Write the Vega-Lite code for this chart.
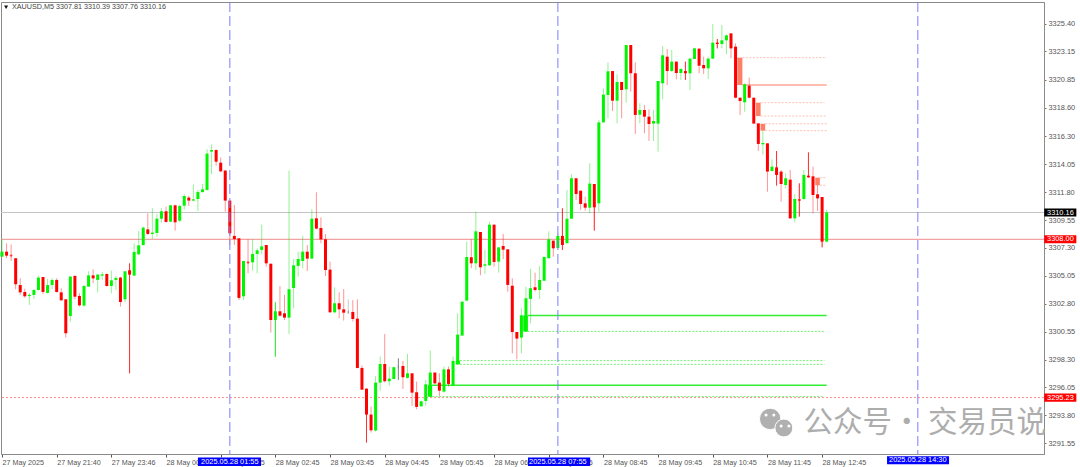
{"$schema":"https://vega.github.io/schema/vega-lite/v6.json","width":1043,"height":452,"autosize":"none","padding":{"left":1,"top":2,"right":36,"bottom":13},"background":"white","config":{"view":{"stroke":"#8a8a8a","strokeWidth":1},"font":"Liberation Sans"},
"resolve":{"scale":{"color":"independent"}},
"datasets":{"candles":[
{"i":0,"o":3306.60,"h":3308.00,"l":3306.60,"c":3307.00},{"i":1,"o":3307.00,"h":3307.67,"l":3306.47,"c":3306.68},{"i":2,"o":3306.71,"h":3307.59,"l":3306.25,"c":3306.67},{"i":3,"o":3306.47,"h":3306.47,"l":3303.97,"c":3304.37},{"i":4,"o":3304.31,"h":3304.85,"l":3303.51,"c":3303.72},{"i":5,"o":3303.75,"h":3304.02,"l":3303.29,"c":3303.40},{"i":6,"o":3303.43,"h":3303.51,"l":3302.70,"c":3303.51},{"i":7,"o":3303.51,"h":3303.99,"l":3303.19,"c":3303.91},{"i":8,"o":3303.91,"h":3305.07,"l":3303.86,"c":3304.91},{"i":9,"o":3304.96,"h":3304.96,"l":3303.59,"c":3303.75},
{"i":10,"o":3303.67,"h":3304.80,"l":3303.62,"c":3304.31},{"i":11,"o":3304.31,"h":3304.85,"l":3303.97,"c":3304.72},{"i":12,"o":3304.72,"h":3304.85,"l":3303.70,"c":3303.75},{"i":13,"o":3303.72,"h":3304.05,"l":3303.02,"c":3303.08},{"i":14,"o":3303.16,"h":3303.16,"l":3300.07,"c":3300.42},{"i":15,"o":3301.81,"h":3305.04,"l":3301.36,"c":3304.99},{"i":16,"o":3305.04,"h":3305.12,"l":3303.16,"c":3303.37},{"i":17,"o":3303.43,"h":3303.64,"l":3302.57,"c":3302.67},{"i":18,"o":3302.65,"h":3304.31,"l":3302.57,"c":3304.23},{"i":19,"o":3304.18,"h":3305.42,"l":3304.18,"c":3305.09},
{"i":20,"o":3305.09,"h":3305.58,"l":3304.45,"c":3304.85},{"i":21,"o":3304.72,"h":3305.20,"l":3303.72,"c":3305.15},{"i":22,"o":3305.07,"h":3305.36,"l":3304.72,"c":3305.17},{"i":23,"o":3305.20,"h":3305.26,"l":3304.18,"c":3304.23},{"i":24,"o":3304.23,"h":3305.47,"l":3303.64,"c":3304.69},{"i":25,"o":3304.72,"h":3305.04,"l":3303.91,"c":3304.88},{"i":26,"o":3304.91,"h":3304.99,"l":3302.57,"c":3302.94},{"i":27,"o":3303.16,"h":3305.42,"l":3302.92,"c":3305.42},{"i":28,"o":3305.50,"h":3306.06,"l":3297.19,"c":3305.15},{"i":29,"o":3305.07,"h":3307.67,"l":3305.07,"c":3306.98},
{"i":30,"o":3306.79,"h":3308.67,"l":3306.71,"c":3307.51},{"i":31,"o":3307.54,"h":3309.02,"l":3307.49,"c":3308.94},{"i":32,"o":3308.80,"h":3310.09,"l":3308.35,"c":3308.43},{"i":33,"o":3308.43,"h":3310.50,"l":3308.02,"c":3308.54},{"i":34,"o":3308.51,"h":3310.04,"l":3308.21,"c":3309.66},{"i":35,"o":3309.66,"h":3310.50,"l":3309.34,"c":3310.26},{"i":36,"o":3310.26,"h":3310.63,"l":3309.34,"c":3309.40},{"i":37,"o":3309.42,"h":3310.79,"l":3309.37,"c":3310.74},{"i":38,"o":3310.74,"h":3310.79,"l":3308.70,"c":3309.37},{"i":39,"o":3309.50,"h":3310.79,"l":3309.40,"c":3310.69},
{"i":40,"o":3310.71,"h":3311.65,"l":3310.39,"c":3311.49},{"i":41,"o":3311.36,"h":3311.52,"l":3310.69,"c":3311.12},{"i":42,"o":3311.12,"h":3312.43,"l":3311.09,"c":3311.22},{"i":43,"o":3311.25,"h":3311.98,"l":3310.28,"c":3311.81},{"i":44,"o":3311.81,"h":3312.46,"l":3311.76,"c":3312.03},{"i":45,"o":3311.98,"h":3315.26,"l":3311.92,"c":3314.91},{"i":46,"o":3315.07,"h":3315.66,"l":3313.24,"c":3315.20},{"i":47,"o":3315.20,"h":3315.26,"l":3313.94,"c":3314.26},{"i":48,"o":3314.18,"h":3314.61,"l":3313.43,"c":3313.48},{"i":49,"o":3313.54,"h":3313.59,"l":3310.23,"c":3311.12},
{"i":50,"o":3311.12,"h":3311.12,"l":3307.54,"c":3308.48},{"i":51,"o":3308.27,"h":3310.77,"l":3307.54,"c":3308.02},{"i":52,"o":3308.08,"h":3308.08,"l":3303.10,"c":3303.27},{"i":53,"o":3303.40,"h":3306.25,"l":3303.10,"c":3306.25},{"i":54,"o":3306.17,"h":3308.00,"l":3305.26,"c":3306.12},{"i":55,"o":3306.14,"h":3308.00,"l":3305.47,"c":3306.82},{"i":56,"o":3306.82,"h":3307.27,"l":3305.26,"c":3307.11},{"i":57,"o":3307.14,"h":3309.18,"l":3306.82,"c":3307.43},{"i":58,"o":3307.54,"h":3307.54,"l":3305.79,"c":3306.06},{"i":59,"o":3306.03,"h":3306.03,"l":3300.47,"c":3301.49},
{"i":60,"o":3301.49,"h":3302.92,"l":3298.53,"c":3302.19},{"i":61,"o":3302.19,"h":3304.23,"l":3301.76,"c":3301.84},{"i":62,"o":3302.03,"h":3303.51,"l":3301.49,"c":3301.68},{"i":63,"o":3301.68,"h":3313.54,"l":3300.36,"c":3303.97},{"i":64,"o":3304.07,"h":3306.41,"l":3302.43,"c":3305.90},{"i":65,"o":3305.85,"h":3307.00,"l":3304.99,"c":3306.41},{"i":66,"o":3306.25,"h":3308.29,"l":3305.66,"c":3307.00},{"i":67,"o":3307.00,"h":3307.54,"l":3305.44,"c":3306.44},{"i":68,"o":3306.44,"h":3310.42,"l":3306.44,"c":3309.66},{"i":69,"o":3309.69,"h":3311.79,"l":3308.80,"c":3308.86},
{"i":70,"o":3308.91,"h":3309.77,"l":3307.68,"c":3308.00},{"i":71,"o":3308.00,"h":3308.43,"l":3305.04,"c":3305.52},{"i":72,"o":3305.55,"h":3306.20,"l":3302.08,"c":3302.11},{"i":73,"o":3302.11,"h":3304.13,"l":3302.03,"c":3302.84},{"i":74,"o":3302.84,"h":3303.72,"l":3301.63,"c":3302.35},{"i":75,"o":3302.35,"h":3303.99,"l":3301.44,"c":3302.08},{"i":76,"o":3302.14,"h":3303.16,"l":3301.98,"c":3302.14},{"i":77,"o":3302.14,"h":3303.10,"l":3301.36,"c":3301.57},{"i":78,"o":3301.60,"h":3303.16,"l":3297.59,"c":3297.62},{"i":79,"o":3297.62,"h":3297.81,"l":3295.85,"c":3295.87},
{"i":80,"o":3295.95,"h":3295.95,"l":3291.60,"c":3293.86},{"i":81,"o":3293.86,"h":3294.50,"l":3292.41,"c":3292.59},{"i":82,"o":3292.57,"h":3296.98,"l":3292.49,"c":3296.44},{"i":83,"o":3296.44,"h":3298.54,"l":3295.79,"c":3297.94},{"i":84,"o":3297.94,"h":3300.36,"l":3296.44,"c":3296.55},{"i":85,"o":3296.55,"h":3297.73,"l":3296.17,"c":3296.76},{"i":86,"o":3296.73,"h":3297.73,"l":3296.71,"c":3297.68},{"i":87,"o":3297.70,"h":3298.40,"l":3296.65,"c":3297.70},{"i":88,"o":3297.78,"h":3298.19,"l":3295.93,"c":3296.87},{"i":89,"o":3296.82,"h":3298.75,"l":3296.76,"c":3297.19},
{"i":90,"o":3297.19,"h":3297.19,"l":3294.56,"c":3295.63},{"i":91,"o":3295.66,"h":3296.52,"l":3294.29,"c":3294.48},{"i":92,"o":3294.53,"h":3294.99,"l":3294.48,"c":3294.93},{"i":93,"o":3294.96,"h":3296.65,"l":3294.58,"c":3296.30},{"i":94,"o":3295.31,"h":3299.02,"l":3295.26,"c":3297.25},{"i":95,"o":3297.25,"h":3297.25,"l":3296.33,"c":3296.38},{"i":96,"o":3296.44,"h":3297.19,"l":3295.36,"c":3295.79},{"i":97,"o":3295.71,"h":3297.73,"l":3295.63,"c":3297.51},{"i":98,"o":3297.51,"h":3297.73,"l":3296.12,"c":3296.33},{"i":99,"o":3296.22,"h":3298.54,"l":3296.17,"c":3298.19},
{"i":100,"o":3297.92,"h":3302.03,"l":3297.92,"c":3300.31},{"i":101,"o":3300.23,"h":3302.97,"l":3300.23,"c":3302.97},{"i":102,"o":3303.05,"h":3307.81,"l":3303.05,"c":3306.57},{"i":103,"o":3306.55,"h":3308.00,"l":3305.66,"c":3306.06},{"i":104,"o":3306.06,"h":3310.23,"l":3305.52,"c":3308.64},{"i":105,"o":3308.59,"h":3308.59,"l":3305.09,"c":3305.74},{"i":106,"o":3305.87,"h":3307.14,"l":3305.20,"c":3305.98},{"i":107,"o":3305.90,"h":3309.42,"l":3305.85,"c":3309.18},{"i":108,"o":3309.18,"h":3309.18,"l":3305.79,"c":3306.17},{"i":109,"o":3306.20,"h":3307.35,"l":3305.31,"c":3307.35},
{"i":110,"o":3307.46,"h":3308.43,"l":3306.39,"c":3307.16},{"i":111,"o":3307.19,"h":3307.19,"l":3303.78,"c":3304.32},{"i":112,"o":3304.26,"h":3304.85,"l":3298.80,"c":3300.52},{"i":113,"o":3300.52,"h":3300.52,"l":3298.32,"c":3299.99},{"i":114,"o":3300.07,"h":3302.43,"l":3298.80,"c":3301.87},{"i":115,"o":3300.55,"h":3304.18,"l":3300.55,"c":3303.24},{"i":116,"o":3303.19,"h":3305.61,"l":3301.22,"c":3304.05},{"i":117,"o":3304.13,"h":3305.31,"l":3303.78,"c":3303.91},{"i":118,"o":3303.91,"h":3305.85,"l":3303.19,"c":3304.72},{"i":119,"o":3304.66,"h":3306.60,"l":3304.64,"c":3306.57},
{"i":120,"o":3306.47,"h":3308.64,"l":3306.47,"c":3308.00},{"i":121,"o":3307.89,"h":3307.89,"l":3306.60,"c":3307.27},{"i":122,"o":3307.30,"h":3308.48,"l":3307.27,"c":3308.27},{"i":123,"o":3308.27,"h":3310.50,"l":3307.14,"c":3307.54},{"i":124,"o":3307.68,"h":3311.98,"l":3307.68,"c":3309.66},{"i":125,"o":3309.66,"h":3313.24,"l":3309.66,"c":3312.92},{"i":126,"o":3312.92,"h":3312.92,"l":3311.17,"c":3311.65},{"i":127,"o":3311.92,"h":3311.92,"l":3310.36,"c":3310.85},{"i":128,"o":3310.90,"h":3311.44,"l":3310.31,"c":3310.55},{"i":129,"o":3310.55,"h":3314.13,"l":3310.09,"c":3312.49},
{"i":130,"o":3312.46,"h":3312.46,"l":3308.70,"c":3310.58},{"i":131,"o":3310.90,"h":3317.62,"l":3310.23,"c":3317.43},{"i":132,"o":3317.43,"h":3320.18,"l":3317.43,"c":3319.67},{"i":133,"o":3319.64,"h":3322.27,"l":3317.76,"c":3321.55},{"i":134,"o":3321.57,"h":3321.57,"l":3318.35,"c":3319.18},{"i":135,"o":3319.18,"h":3321.31,"l":3317.35,"c":3320.69},{"i":136,"o":3320.69,"h":3320.69,"l":3317.76,"c":3320.04},{"i":137,"o":3320.10,"h":3323.67,"l":3319.02,"c":3323.67},{"i":138,"o":3323.67,"h":3323.67,"l":3319.91,"c":3321.39},{"i":139,"o":3321.39,"h":3322.27,"l":3316.49,"c":3318.03},
{"i":140,"o":3318.05,"h":3318.97,"l":3317.35,"c":3318.43},{"i":141,"o":3318.43,"h":3318.83,"l":3316.55,"c":3317.89},{"i":142,"o":3317.89,"h":3318.48,"l":3315.93,"c":3317.30},{"i":143,"o":3317.33,"h":3318.43,"l":3315.93,"c":3317.54},{"i":144,"o":3317.33,"h":3320.77,"l":3315.07,"c":3320.77},{"i":145,"o":3320.58,"h":3323.59,"l":3319.29,"c":3322.84},{"i":146,"o":3322.73,"h":3323.35,"l":3320.44,"c":3321.57},{"i":147,"o":3321.57,"h":3323.27,"l":3321.52,"c":3322.33},{"i":148,"o":3322.33,"h":3322.33,"l":3320.90,"c":3321.41},{"i":149,"o":3321.41,"h":3321.79,"l":3320.85,"c":3321.74},
{"i":150,"o":3321.57,"h":3322.33,"l":3320.85,"c":3321.39},{"i":151,"o":3321.39,"h":3322.65,"l":3320.04,"c":3322.57},{"i":152,"o":3322.54,"h":3323.46,"l":3322.54,"c":3323.40},{"i":153,"o":3323.38,"h":3323.38,"l":3321.39,"c":3322.00},{"i":154,"o":3322.06,"h":3322.73,"l":3321.33,"c":3321.79},{"i":155,"o":3321.79,"h":3322.73,"l":3320.93,"c":3322.57},{"i":156,"o":3322.57,"h":3325.36,"l":3322.57,"c":3323.86},{"i":157,"o":3323.86,"h":3324.15,"l":3323.40,"c":3323.75},{"i":158,"o":3323.75,"h":3325.28,"l":3323.40,"c":3324.05},{"i":159,"o":3324.05,"h":3324.53,"l":3322.92,"c":3324.45},
{"i":160,"o":3324.61,"h":3324.61,"l":3322.60,"c":3323.40},{"i":161,"o":3323.54,"h":3323.80,"l":3319.37,"c":3319.42},{"i":162,"o":3319.42,"h":3319.42,"l":3318.03,"c":3319.15},{"i":163,"o":3319.05,"h":3320.58,"l":3318.29,"c":3320.50},{"i":164,"o":3320.39,"h":3321.04,"l":3319.37,"c":3319.42},{"i":165,"o":3319.42,"h":3319.42,"l":3317.33,"c":3317.33},{"i":166,"o":3317.35,"h":3317.35,"l":3315.12,"c":3315.69},{"i":167,"o":3315.66,"h":3316.74,"l":3314.85,"c":3315.77},{"i":168,"o":3315.74,"h":3315.74,"l":3311.84,"c":3313.46},{"i":169,"o":3313.51,"h":3314.45,"l":3313.46,"c":3313.86},
{"i":170,"o":3313.80,"h":3315.12,"l":3312.33,"c":3313.19},{"i":171,"o":3313.46,"h":3313.59,"l":3311.04,"c":3312.46},{"i":172,"o":3312.38,"h":3313.32,"l":3312.11,"c":3312.92},{"i":173,"o":3312.81,"h":3313.59,"l":3309.64,"c":3309.69},{"i":174,"o":3309.69,"h":3311.63,"l":3309.37,"c":3311.25},{"i":175,"o":3311.22,"h":3312.51,"l":3309.83,"c":3311.12},{"i":176,"o":3311.25,"h":3313.59,"l":3311.17,"c":3313.19},{"i":177,"o":3313.13,"h":3315.01,"l":3312.97,"c":3313.00},{"i":178,"o":3313.08,"h":3313.86,"l":3310.09,"c":3311.57},{"i":179,"o":3311.63,"h":3312.38,"l":3310.28,"c":3311.30},
{"i":180,"o":3311.41,"h":3311.41,"l":3307.35,"c":3307.81},{"i":181,"o":3307.81,"h":3310.39,"l":3307.76,"c":3310.16}],
"levels":[{"s":162.5,"e":181,"p":3322.65,"side":"sell","kind":"dot"},{"s":162.5,"e":181,"p":3320.44,"side":"sell","kind":"solid"},{"s":166.5,"e":180.5,"p":3319.02,"side":"sell","kind":"dot"},{"s":166.5,"e":181,"p":3317.94,"side":"sell","kind":"dot"},{"s":167.5,"e":181,"p":3317.32,"side":"sell","kind":"dot"},{"s":167.5,"e":181,"p":3316.76,"side":"sell","kind":"dot"},{"s":179.5,"e":181,"p":3312.97,"side":"sell","kind":"dot"},{"s":179.5,"e":181,"p":3312.36,"side":"sell","kind":"dot"},{"s":115.4,"e":181,"p":3301.85,"side":"buy","kind":"solid"},{"s":115.4,"e":180.5,"p":3300.57,"side":"buy","kind":"dot"},{"s":100.5,"e":180.5,"p":3298.21,"side":"buy","kind":"dot"},{"s":100.5,"e":180.5,"p":3297.91,"side":"buy","kind":"dot"},{"s":94.4,"e":181,"p":3296.23,"side":"buy","kind":"solid"},{"s":94.4,"e":180.5,"p":3295.31,"side":"buy","kind":"dot"}],
"zones":[{"a":161.4,"b":162.5,"p1":3322.65,"p2":3320.44,"side":"sell"},{"a":165.5,"b":166.5,"p1":3319.02,"p2":3317.94,"side":"sell"},{"a":166.5,"b":167.5,"p1":3317.32,"p2":3316.76,"side":"sell"},{"a":178.5,"b":179.5,"p1":3312.97,"p2":3312.36,"side":"sell"},{"a":114.4,"b":115.4,"p1":3301.85,"p2":3300.57,"side":"buy"},{"a":99.6,"b":100.5,"p1":3298.21,"p2":3297.91,"side":"buy"},{"a":93.5,"b":94.4,"p1":3296.23,"p2":3295.31,"side":"buy"}],
"vlines":[{"i":50,"tag":"2025.05.28 01:55","a":43.0,"b":56.85,"t":3290.40,"u":3289.72,"m":3290.04},{"i":122,"tag":"2025.05.28 07:55","a":115.45,"b":129.1,"t":3290.40,"u":3289.72,"m":3290.04},{"i":201,"tag":"2025.05.28 14:30","a":194.25,"b":207.86,"t":3290.50,"u":3289.85,"m":3290.16}],
"prices":[{"p":3310.16,"label":"3310.16","kind":"bid"},{"p":3308.00,"label":"3308.00","kind":"stop"},{"p":3295.23,"label":"3295.23","kind":"target"}],
"bubbles":[{"i":168.6,"p":3293.51,"part":"a"},{"i":171.6,"p":3292.78,"part":"b"}],
"eyes":[{"i":167.7,"p":3293.83},{"i":169.4,"p":3293.83},{"i":171.0,"p":3292.94},{"i":172.7,"p":3292.94}]},
"layer":[
{"data":{"name":"prices"},"transform":[{"filter":"datum.kind=='bid'"}],"mark":{"type":"rule","color":"#c4c4c4","strokeWidth":1},"encoding":{"y":{"field":"p","type":"quantitative","scale":{"domain":[3290.68,3327.14],"nice":false,"zero":false},"axis":{"orient":"right","title":null,"grid":false,"tickCount":32,"values":[3325.40,3323.15,3320.85,3318.60,3316.30,3314.05,3311.80,3309.55,3307.30,3305.05,3302.80,3300.55,3298.30,3296.05,3293.80,3291.55],"format":".2f","labelFontSize":7.4,"labelColor":"#555555","labelFont":"Liberation Sans","tickSize":2,"tickColor":"#777777","domainColor":"#8a8a8a","labelPadding":2,"labelOverlap":false,"labelBound":false}}}},
{"data":{"name":"prices"},"transform":[{"filter":"datum.kind=='stop'"}],"mark":{"type":"rule","color":"#f08a8a","strokeWidth":1},"encoding":{"y":{"field":"p","type":"quantitative"}}},
{"data":{"name":"prices"},"transform":[{"filter":"datum.kind=='target'"}],"mark":{"type":"rule","stroke":"#ff8f8f","strokeWidth":1,"strokeDash":[2,2]},"encoding":{"y":{"field":"p","type":"quantitative"}}},
{"data":{"name":"levels"},"transform":[{"filter":"datum.kind=='solid'"}],"mark":{"type":"rule","strokeWidth":1.6},"encoding":{"x":{"field":"s","type":"quantitative","scale":{"domain":[-0.22,228.7],"nice":false,"zero":false,"padding":0},"axis":{"title":null,"grid":false,"orient":"bottom","values":[0,12,24,36,48,60,72,84,96,108,120,132,144,156,168,180],"labelExpr":"{'0':'27 May 2025','12':'27 May 21:40','24':'27 May 23:46','36':'28 May 00:45','48':'28 May 01:45','60':'28 May 02:45','72':'28 May 03:45','84':'28 May 04:45','96':'28 May 05:45','108':'28 May 06:45','120':'28 May 07:45','132':'28 May 08:45','144':'28 May 09:45','156':'28 May 10:45','168':'28 May 11:45','180':'28 May 12:45'}[''+datum.value]","labelAlign":"left","labelBaseline":"middle","labelFontSize":7.2,"labelColor":"#555555","labelFont":"Liberation Sans","tickSize":3,"tickColor":"#555555","domainColor":"#8a8a8a","labelPadding":5,"labelOverlap":false,"labelBound":false,"labelFlush":false}},"x2":{"field":"e"},"y":{"field":"p","type":"quantitative"},"color":{"field":"side","type":"nominal","scale":{"domain":["sell","buy"],"range":["#ffa696","#33ee33"]},"legend":null}}},
{"data":{"name":"levels"},"transform":[{"filter":"datum.kind=='dot'"}],"mark":{"type":"rule","strokeWidth":0.8,"strokeDash":[2,1.5]},"encoding":{"x":{"field":"s","type":"quantitative"},"x2":{"field":"e"},"y":{"field":"p","type":"quantitative"},"color":{"field":"side","type":"nominal","scale":{"domain":["sell","buy"],"range":["#ffb3a6","#4ff04f"]},"legend":null}}},
{"data":{"name":"zones"},"mark":{"type":"rect"},"encoding":{"x":{"field":"a","type":"quantitative"},"x2":{"field":"b"},"y":{"field":"p1","type":"quantitative"},"y2":{"field":"p2"},"color":{"field":"side","type":"nominal","scale":{"domain":["sell","buy"],"range":["#ff7f66","#00f000"]},"legend":null}}},
{"data":{"name":"candles"},"mark":{"type":"rule","strokeWidth":1,"opacity":0.42},"encoding":{"x":{"field":"i","type":"quantitative"},"y":{"field":"l","type":"quantitative"},"y2":{"field":"h"},"color":{"value":"#888888","condition":[{"test":"datum.c>datum.o","value":"#00e000"},{"test":"datum.c<datum.o","value":"#ff0000"}]}}},
{"data":{"name":"candles"},"transform":[{"filter":{"field":"i","oneOf":[28,60,80,87,123,130,150,157,170,175,177,180]}}],"mark":{"type":"rule","strokeWidth":0.8,"opacity":0.85},"encoding":{"x":{"field":"i","type":"quantitative"},"y":{"field":"l","type":"quantitative"},"y2":{"field":"h"},"color":{"value":"#666666","condition":[{"test":"datum.c>datum.o","value":"#00e000"},{"test":"datum.c<datum.o","value":"#ff0000"}]}}},
{"data":{"name":"candles"},"mark":{"type":"bar","size":3},"encoding":{"x":{"field":"i","type":"quantitative"},"y":{"field":"o","type":"quantitative"},"y2":{"field":"c"},"color":{"value":"#888888","condition":[{"test":"datum.c>datum.o","value":"#00f500"},{"test":"datum.c<datum.o","value":"#ff0000"}]}}},
{"data":{"name":"candles"},"transform":[{"filter":"abs(datum.o-datum.c)<0.09"}],"mark":{"type":"tick","size":3,"thickness":1},"encoding":{"x":{"field":"i","type":"quantitative"},"y":{"field":"c","type":"quantitative"},"color":{"value":"#777777","condition":[{"test":"datum.c>datum.o","value":"#00f500"},{"test":"datum.c<datum.o","value":"#ff0000"}]}}},
{"data":{"name":"vlines"},"mark":{"type":"rule","color":"#7f7fff","strokeWidth":1.2,"strokeDash":[10,4],"opacity":0.85},"encoding":{"x":{"field":"i","type":"quantitative"}}},
{"data":{"name":"vlines"},"mark":{"type":"rect","color":"#0000ff"},"encoding":{"x":{"field":"a","type":"quantitative"},"x2":{"field":"b"},"y":{"field":"t","type":"quantitative"},"y2":{"field":"u"}}},
{"data":{"name":"vlines"},"mark":{"type":"text","color":"white","fontSize":7.4,"align":"center","baseline":"middle"},"encoding":{"x":{"field":"i","type":"quantitative"},"y":{"field":"m","type":"quantitative"},"text":{"field":"tag"}}},
{"data":{"name":"prices"},"transform":[{"calculate":"datum.p+0.33","as":"t"},{"calculate":"datum.p-0.33","as":"u"},{"calculate":"228.75","as":"a"},{"calculate":"235.8","as":"b"}],"mark":{"type":"rect"},"encoding":{"x":{"field":"a","type":"quantitative"},"x2":{"field":"b"},"y":{"field":"t","type":"quantitative"},"y2":{"field":"u"},"color":{"field":"kind","type":"nominal","scale":{"domain":["bid","stop","target"],"range":["#000000","#ff0000","#ff0000"]},"legend":null}}},
{"data":{"name":"prices"},"transform":[{"calculate":"232.3","as":"m"}],"mark":{"type":"text","color":"white","fontSize":7.4,"align":"center","baseline":"middle"},"encoding":{"x":{"field":"m","type":"quantitative"},"y":{"field":"p","type":"quantitative"},"text":{"field":"label"}}},
{"data":{"values":[{"i":2.2,"p":3326.72,"t":"XAUUSD,M5  3307.81 3310.39 3307.76 3310.16"}]},"mark":{"type":"text","color":"#444444","fontSize":7.2,"align":"left","baseline":"middle"},"encoding":{"x":{"field":"i","type":"quantitative"},"y":{"field":"p","type":"quantitative"},"text":{"field":"t"}}},
{"data":{"values":[{"i":0.9,"p":3326.72}]},"mark":{"type":"point","shape":"triangle-down","filled":true,"size":16,"color":"#111111","opacity":1},"encoding":{"x":{"field":"i","type":"quantitative"},"y":{"field":"p","type":"quantitative"}}},
{"data":{"name":"bubbles"},"mark":{"type":"point","shape":"circle","filled":true,"opacity":1,"color":"#b0b0b0","stroke":"white","strokeWidth":1},"encoding":{"x":{"field":"i","type":"quantitative"},"y":{"field":"p","type":"quantitative"},"size":{"field":"part","type":"nominal","scale":{"domain":["a","b"],"range":[460,320]},"legend":null}}},
{"data":{"name":"eyes"},"mark":{"type":"point","shape":"circle","filled":true,"opacity":1,"color":"white","size":9},"encoding":{"x":{"field":"i","type":"quantitative"},"y":{"field":"p","type":"quantitative"}}},
{"data":{"values":[{"i":175.9,"p":3293.19,"t":"公众号· 交易员说"}]},"mark":{"type":"text","color":"#adadad","font":"Noto Sans CJK SC","fontSize":29.5,"align":"left","baseline":"middle"},"encoding":{"x":{"field":"i","type":"quantitative"},"y":{"field":"p","type":"quantitative"},"text":{"field":"t"}}}
]}
